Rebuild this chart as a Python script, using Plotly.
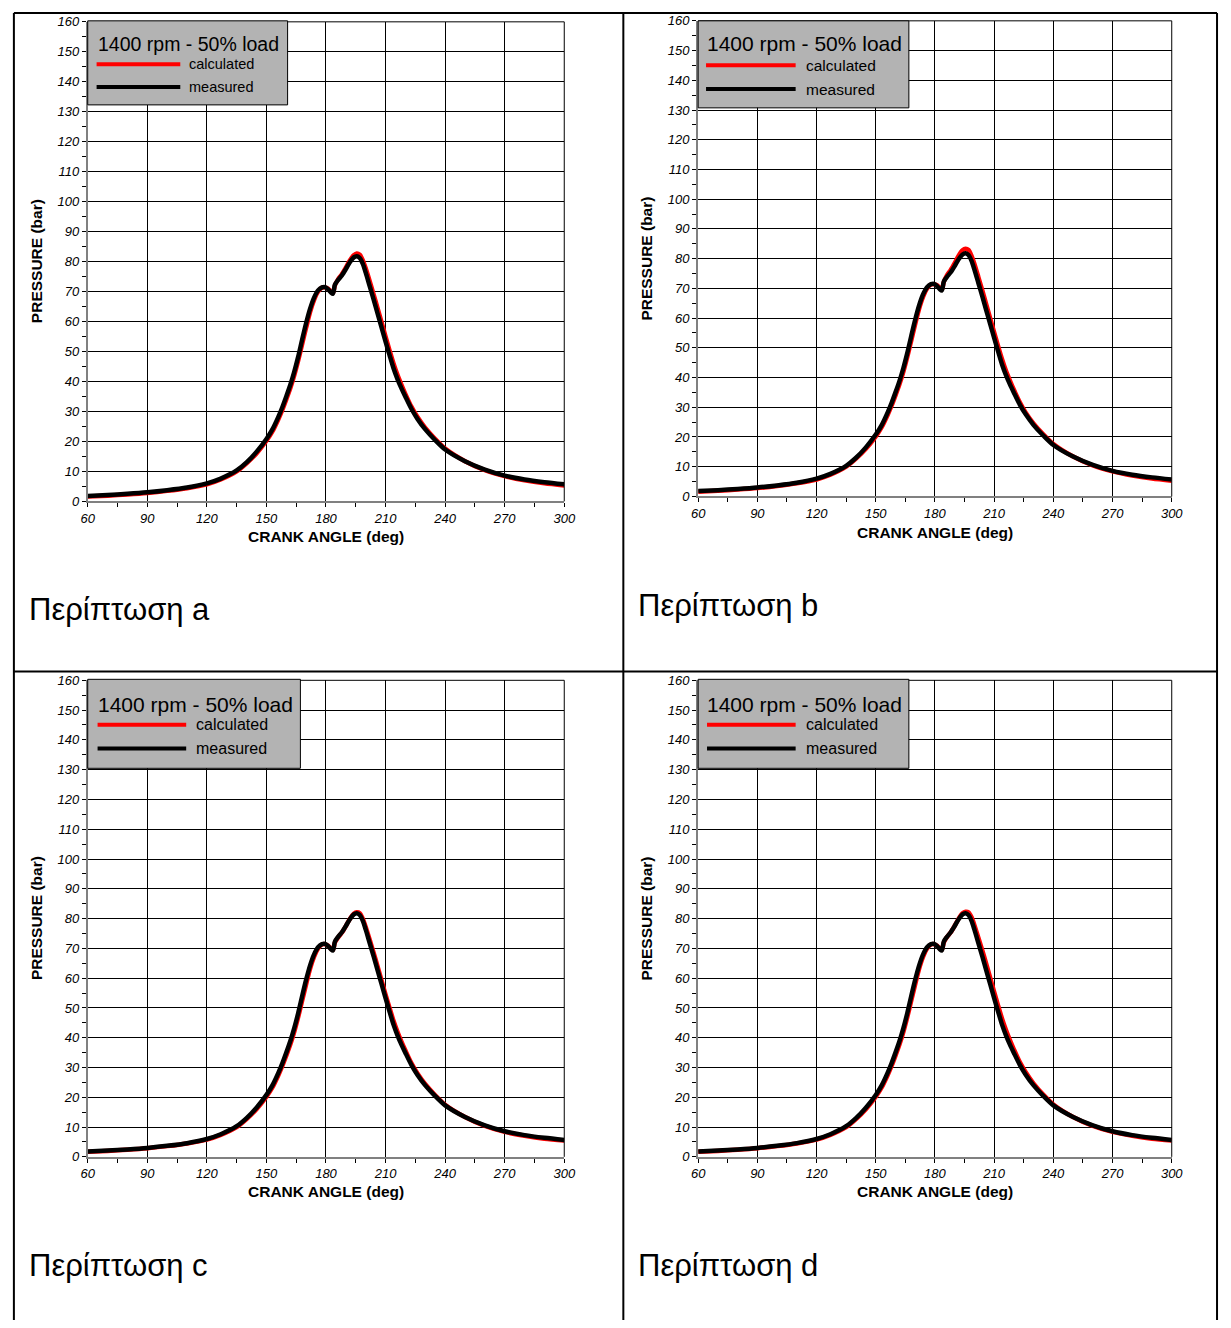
import plotly.graph_objects as go

# ---------------- data ----------------
angle = [60, 70, 80, 90, 100, 110, 120, 127, 135, 140, 145,
         150, 153, 156, 158, 160, 162, 164, 166, 168, 170, 172, 174, 176, 178,
         179.5, 181, 182.5, 183.5, 184.5, 186, 188, 190, 192, 194, 195.5, 197, 198.5,
         200, 202, 204, 206, 208, 210, 212, 214, 216, 218, 220,
         223, 226, 230, 235, 240, 250, 260, 270, 280, 290, 300]

measured = [1.8, 2.1, 2.5, 3.0, 3.7, 4.6, 6.0, 7.6, 10.3, 13.0, 16.5,
            20.8, 24.0, 28.2, 31.4, 35.0, 38.8, 43.2, 48.3, 54.0, 59.5, 64.3, 68.0, 70.4, 71.4,
            71.5, 70.8, 69.7, 69.3, 72.3, 73.8, 75.4, 77.5, 79.8, 81.4, 81.8, 81.2, 79.3,
            76.3, 71.8, 67.3, 62.6, 58.0, 53.3, 48.8, 44.4, 40.8, 37.7, 34.9,
            30.9, 27.6, 24.0, 20.4, 17.3, 13.4, 10.6, 8.6, 7.3, 6.4, 5.7]

calc_a = [1.6, 1.9, 2.3, 2.8, 3.5, 4.4, 5.7, 7.3, 10.0, 12.7, 16.0,
          20.2, 23.3, 27.4, 30.5, 34.0, 37.7, 42.0, 47.0, 52.5, 58.0, 63.2, 67.2, 70.0, 71.3,
          71.4, 71.0, 70.0, 69.6, 72.1, 74.0, 75.8, 78.0, 80.4, 82.1, 82.7, 82.3, 80.5,
          77.8, 73.5, 69.0, 64.4, 59.7, 55.0, 50.4, 46.0, 42.2, 38.9, 35.8,
          31.6, 28.2, 24.5, 20.8, 17.6, 13.4, 10.4, 8.4, 7.0, 6.0, 5.3]

calc_b = [1.6, 1.9, 2.3, 2.8, 3.5, 4.4, 5.7, 7.3, 10.0, 12.7, 16.0,
          20.2, 23.3, 27.4, 30.5, 34.0, 37.7, 42.0, 47.0, 52.5, 58.0, 63.2, 67.2, 70.0, 71.3,
          71.4, 71.1, 70.1, 69.6, 72.2, 74.3, 76.2, 78.5, 81.0, 82.8, 83.3, 82.9, 81.0,
          78.2, 73.8, 69.3, 64.6, 59.9, 55.2, 50.6, 46.2, 42.3, 39.0, 35.9,
          31.7, 28.2, 24.5, 20.8, 17.6, 13.4, 10.4, 8.4, 7.0, 6.0, 5.3]

calc_c = [1.7, 2.0, 2.4, 2.9, 3.6, 4.5, 5.8, 7.4, 10.0, 12.7, 16.0,
          20.2, 23.3, 27.4, 30.5, 34.0, 37.7, 42.0, 47.0, 52.5, 58.0, 63.2, 67.2, 70.0, 71.3,
          71.4, 70.9, 69.9, 69.5, 72.0, 73.6, 75.3, 77.5, 79.9, 81.6, 82.1, 81.8, 80.0,
          77.2, 72.9, 68.5, 63.9, 59.2, 54.5, 50.0, 45.7, 42.0, 38.7, 35.7,
          31.5, 28.1, 24.4, 20.7, 17.5, 13.4, 10.4, 8.4, 7.1, 6.1, 5.5]

calc_d = [1.7, 2.0, 2.4, 2.9, 3.6, 4.5, 5.8, 7.4, 10.0, 12.7, 16.0,
          20.2, 23.3, 27.4, 30.5, 34.0, 37.7, 42.0, 47.0, 52.5, 58.0, 63.2, 67.2, 70.0, 71.3,
          71.4, 70.9, 69.9, 69.5, 72.0, 73.7, 75.4, 77.6, 80.0, 81.8, 82.3, 82.1, 80.5,
          77.8, 73.6, 69.3, 64.8, 60.1, 55.4, 50.8, 46.4, 42.6, 39.2, 36.1,
          31.8, 28.4, 24.6, 20.8, 17.6, 13.4, 10.4, 8.4, 7.1, 6.1, 5.5]

calculated = [calc_a, calc_b, calc_c, calc_d]
case_labels = ["Περίπτωση a", "Περίπτωση b", "Περίπτωση c", "Περίπτωση d"]
legend_title = "1400 rpm - 50% load"
series_names = ["calculated", "measured"]
x_ticks = [60, 90, 120, 150, 180, 210, 240, 270, 300]
x_minor = [75, 105, 135, 165, 195, 225, 255, 285]
y_ticks = list(range(0, 161, 10))
y_minor = list(range(5, 160, 10))
x_title = "CRANK ANGLE (deg)"
y_title = "PRESSURE (bar)"

# ---------------- layout (pixels) ----------------
W, H = 1231, 1328
FONT = "Liberation Sans, Arial, Helvetica, sans-serif"


def px(x):
    return x / W


def py(y):
    return 1 - y / H


panels = [
    dict(x0=82, x1=566, y0=15, y1=500, lab=(22, 609),
         box=(82, 14, 285, 99), lx=(91, 176), ty=37, ry=58, by=81, tx=92, ix=185,
         ts=19.5, isz=14.5, xt_y=536, yt_x=30),
    dict(x0=702, x1=1183, y0=14, y1=495, lab=(641, 605),
         box=(702, 14, 916, 102), lx=(710, 801), ty=37, ry=59, by=83, tx=711, ix=811,
         ts=21, isz=15.5, xt_y=531, yt_x=650),
    dict(x0=82, x1=566, y0=681, y1=1163, lab=(22, 1273),
         box=(82, 680, 298, 770), lx=(92, 182), ty=705, ry=726, by=750, tx=92, ix=192,
         ts=21, isz=16, xt_y=1198, yt_x=30),
    dict(x0=702, x1=1183, y0=681, y1=1163, lab=(641, 1273),
         box=(702, 680, 916, 770), lx=(711, 801), ty=705, ry=726, by=750, tx=711, ix=811,
         ts=21, isz=16, xt_y=1198, yt_x=650),
]

fig = go.Figure()
shapes = []
annotations = []

for i, p in enumerate(panels):
    n = "" if i == 0 else str(i + 1)
    xa, ya = "x" + n, "y" + n
    fig.add_trace(go.Scatter(x=angle, y=calculated[i], mode="lines", name=series_names[0],
                             line=dict(color="#ff0000", width=4.5, shape="spline", smoothing=0.8),
                             xaxis=xa, yaxis=ya, showlegend=False))
    fig.add_trace(go.Scatter(x=angle, y=measured, mode="lines", name=series_names[1],
                             line=dict(color="#000000", width=4.5, shape="spline", smoothing=0.8),
                             xaxis=xa, yaxis=ya, showlegend=False))
    tickfont = dict(family=FONT, size=13, color="black", style="italic")
    fig.layout["xaxis" + n] = dict(
        domain=[px(p["x0"]), px(p["x1"])], anchor=ya, range=[60, 300],
        tickmode="array", tickvals=x_ticks, ticktext=[str(v) for v in x_ticks],
        showgrid=True, gridcolor="#000000", gridwidth=1, zeroline=False,
        showline=True, linecolor="#808080", linewidth=2,
        ticks="outside", ticklen=4, tickcolor="#000000", tickwidth=1,
        minor=dict(tickmode="array", tickvals=x_minor, ticks="outside", ticklen=4,
                   tickcolor="#000000", showgrid=False),
        tickfont=tickfont, fixedrange=True)
    fig.layout["yaxis" + n] = dict(
        domain=[py(p["y1"]), py(p["y0"])], anchor=xa, range=[0, 160],
        tickmode="array", tickvals=y_ticks, ticktext=[str(v) for v in y_ticks],
        showgrid=True, gridcolor="#000000", gridwidth=1, zeroline=False,
        showline=True, linecolor="#808080", linewidth=2,
        ticks="outside", ticklen=4, tickcolor="#000000", tickwidth=1,
        minor=dict(tickmode="array", tickvals=y_minor, ticks="outside", ticklen=4,
                   tickcolor="#000000", showgrid=False),
        tickfont=tickfont, fixedrange=True)
    # top and right plot border
    shapes.append(dict(type="line", xref=xa + " domain", yref=ya + " domain",
                       x0=0, x1=1, y0=1, y1=1, line=dict(color="black", width=1)))
    shapes.append(dict(type="line", xref=xa + " domain", yref=ya + " domain",
                       x0=1, x1=1, y0=0, y1=1, line=dict(color="black", width=1)))
    # legend box
    bx0, by0, bx1, by1 = p["box"]
    shapes.append(dict(type="rect", xref="paper", yref="paper",
                       x0=px(bx0), x1=px(bx1), y0=py(by1), y1=py(by0),
                       fillcolor="#b3b3b3", line=dict(color="#000000", width=1)))
    shapes.append(dict(type="line", xref="paper", yref="paper",
                       x0=px(p["lx"][0]), x1=px(p["lx"][1]), y0=py(p["ry"]), y1=py(p["ry"]),
                       line=dict(color="#ff0000", width=4)))
    shapes.append(dict(type="line", xref="paper", yref="paper",
                       x0=px(p["lx"][0]), x1=px(p["lx"][1]), y0=py(p["by"]), y1=py(p["by"]),
                       line=dict(color="#000000", width=4)))
    annotations.append(dict(text=legend_title, xref="paper", yref="paper",
                            x=px(p["tx"] - 2), y=py(p["ty"]), xanchor="left", yanchor="middle",
                            showarrow=False, font=dict(family=FONT, size=p["ts"], color="black")))
    annotations.append(dict(text=series_names[0], xref="paper", yref="paper",
                            x=px(p["ix"] - 2), y=py(p["ry"]), xanchor="left", yanchor="middle",
                            showarrow=False, font=dict(family=FONT, size=p["isz"], color="black")))
    annotations.append(dict(text=series_names[1], xref="paper", yref="paper",
                            x=px(p["ix"] - 2), y=py(p["by"]), xanchor="left", yanchor="middle",
                            showarrow=False, font=dict(family=FONT, size=p["isz"], color="black")))
    # axis titles
    annotations.append(dict(text="<b>" + x_title + "</b>", xref="paper", yref="paper",
                            x=px((p["x0"] + p["x1"]) / 2), y=py(p["xt_y"]),
                            xanchor="center", yanchor="middle", showarrow=False,
                            font=dict(family=FONT, size=15.5, color="black")))
    annotations.append(dict(text="<b>" + y_title + "</b>", xref="paper", yref="paper",
                            x=px(p["yt_x"]), y=py((p["y0"] + p["y1"]) / 2), textangle=-90,
                            xanchor="center", yanchor="middle", showarrow=False,
                            font=dict(family=FONT, size=15.5, color="black")))
    # case label
    annotations.append(dict(text=case_labels[i], xref="paper", yref="paper",
                            x=px(p["lab"][0] - 2), y=py(p["lab"][1]), xanchor="left", yanchor="middle",
                            showarrow=False, font=dict(family=FONT, size=31, color="black")))

# table borders
for xline in (7, 626, 1229):
    shapes.append(dict(type="line", xref="paper", yref="paper", x0=px(xline), x1=px(xline),
                       y0=0, y1=py(6), line=dict(color="black", width=2)))
for yline in (6, 672):
    shapes.append(dict(type="line", xref="paper", yref="paper", x0=px(7), x1=px(1229),
                       y0=py(yline), y1=py(yline), line=dict(color="black", width=2)))

fig.update_layout(width=W, height=H, margin=dict(l=0, r=0, t=0, b=0),
                  paper_bgcolor="white", plot_bgcolor="white", showlegend=False,
                  shapes=shapes, annotations=annotations,
                  font=dict(family=FONT, color="black"))

fig.write_html("out.html", config={"displayModeBar": False},
               post_script=(
                   "document.documentElement.style.margin='0';"
                   "document.documentElement.style.padding='0';"
                   "document.documentElement.style.overflow='hidden';"
                   "document.body.style.margin='0';document.body.style.padding='0';"
                   "document.body.style.overflow='hidden';"
                   "var gd=document.getElementById('{plot_id}');"
                   "gd.style.position='fixed';gd.style.left='0px';gd.style.top='0px';"))
